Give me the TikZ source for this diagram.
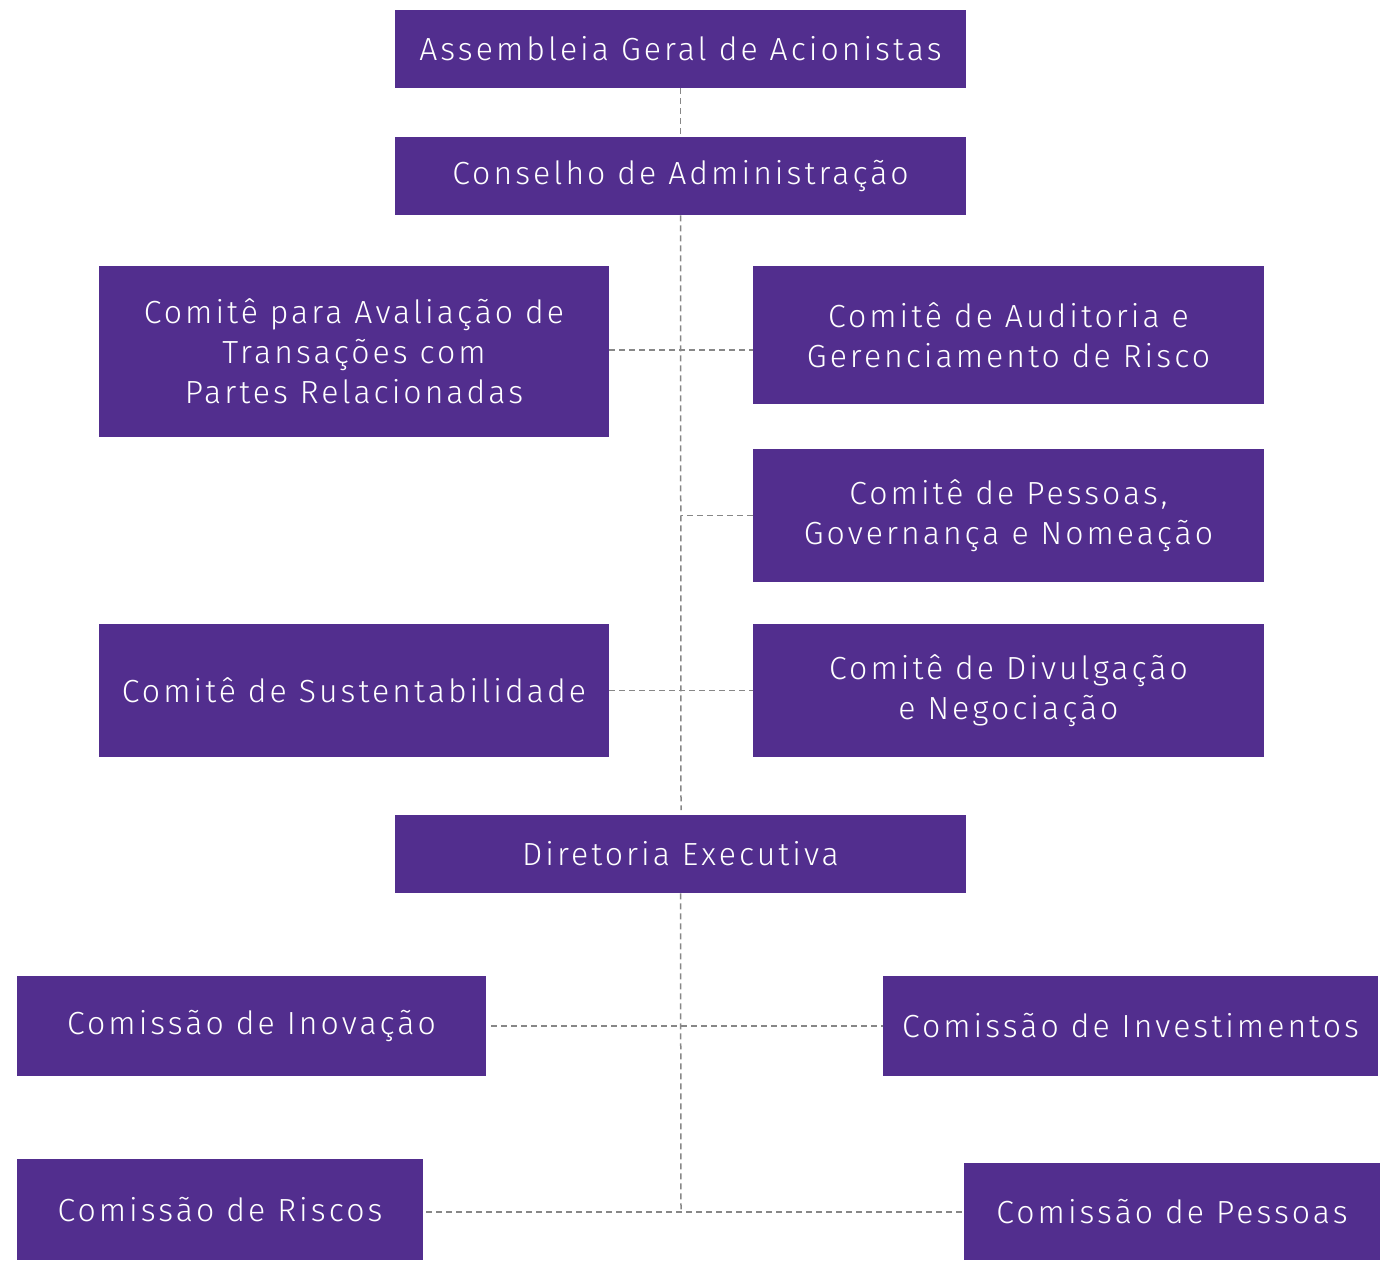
\documentclass[tikz,border=0pt]{standalone}
\usepackage{fontspec}
\setmainfont{Fira Sans}[UprightFont=* Light,LetterSpace=9.5]
\definecolor{boxpurple}{RGB}{82,46,142}
\definecolor{linegray}{RGB}{135,135,135}
\begin{document}
\begin{tikzpicture}[x=0.5pt,y=-0.5pt,
  orgbox/.style={fill=boxpurple,draw=none,text=white,align=center,inner sep=0pt,
    font=\fontsize{16}{20}\selectfont},
  link/.style={draw=linegray,line width=0.75pt,dash pattern=on 3pt off 2pt}]
\useasboundingbox (0,0) rectangle (1380,1260);
\node[orgbox,minimum width=285.5pt,minimum height=39pt] (ag) at (680.5,49) {Assembleia Geral de Acionistas};
\node[orgbox,minimum width=285.5pt,minimum height=39pt] (ca) at (680.5,176) {Conselho de Administração};
\node[orgbox,minimum width=255pt,minimum height=85.5pt] (cav) at (354,351.5) {Comitê para Avaliação de\\Transações com\\Partes Relacionadas};
\node[orgbox,minimum width=255.5pt,minimum height=69pt] (aud) at (1008.5,335) {Comitê de Auditoria e\\Gerenciamento de Risco};
\node[orgbox,minimum width=255.5pt,minimum height=66.5pt] (pes) at (1008.5,515.5) {Comitê de Pessoas,\\Governança e Nomeação};
\node[orgbox,minimum width=255pt,minimum height=66.5pt] (sus) at (354,690.5) {Comitê de Sustentabilidade};
\node[orgbox,minimum width=255.5pt,minimum height=66.5pt] (div) at (1008.5,690.5) {Comitê de Divulgação\\e Negociação};
\node[orgbox,minimum width=285.5pt,minimum height=39pt] (de) at (680.5,854) {Diretoria Executiva};
\node[orgbox,minimum width=234.5pt,minimum height=50pt] (ino) at (251.5,1026) {Comissão de Inovação};
\node[orgbox,minimum width=247.5pt,minimum height=50pt] (inv) at (1130.5,1026) {Comissão de Investimentos};
\node[orgbox,minimum width=203pt,minimum height=50.5pt] (ris) at (220,1209.5) {Comissão de Riscos};
\node[orgbox,minimum width=208pt,minimum height=48.5pt] (pss) at (1172,1211.5) {Comissão de Pessoas};
\coordinate (t1) at (681,810);
\coordinate (t2) at (681,1212);
\path[link] (ag.south) -- (ca.north);
\path[link] (ca.south) -- (t1);
\path[link] (de.south) -- (t2);
\path[link] (cav.east |- 0,350) -- (aud.west |- 0,350);
\path[link] (pes.west) -- (pes.west -| ca.south);
\path[link] (sus.east) -- (div.west);
\path[link] ([xshift=2.5pt]ino.east) -- (inv.west |- ino.east);
\path[link] ([xshift=1.5pt]ris.east |- t2) -- (pss.west |- t2);
\end{tikzpicture}
\end{document}
